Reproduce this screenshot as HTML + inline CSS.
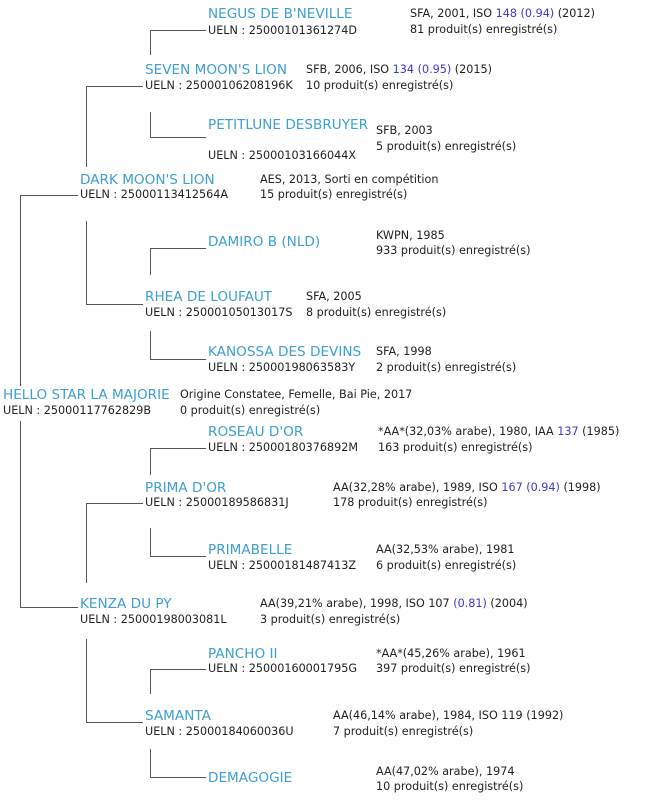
<!DOCTYPE html>
<html><head><meta charset="utf-8"><style>
body{margin:0;background:#fff;width:652px;height:800px;position:relative;overflow:hidden;font-family:"DejaVu Sans","Liberation Sans",sans-serif;}
.t{position:absolute;white-space:nowrap;line-height:16px;font-size:11.2px;color:#222;}
.n{font-size:13.6px;color:#3d9fd3;}
.b{color:#3a3ac8;}
.h{position:absolute;height:0;border-top:1.5px solid #555;}
.v{position:absolute;width:0;border-left:1.5px solid #555;}
</style></head><body>
<div class="h" style="left:150px;top:30px;width:56px"></div><div class="v" style="left:150px;top:30px;height:25px"></div>
<div class="h" style="left:86px;top:86px;width:57px"></div><div class="v" style="left:86px;top:86px;height:81px"></div>
<div class="v" style="left:150px;top:112px;height:25px"></div><div class="h" style="left:150px;top:137px;width:56px"></div>
<div class="h" style="left:20px;top:195px;width:58px"></div><div class="v" style="left:20px;top:195px;height:191px"></div>
<div class="h" style="left:150px;top:248px;width:56px"></div><div class="v" style="left:150px;top:248px;height:27px"></div>
<div class="v" style="left:86px;top:221px;height:83px"></div><div class="h" style="left:86px;top:304px;width:57px"></div>
<div class="v" style="left:150px;top:331px;height:28px"></div><div class="h" style="left:150px;top:359px;width:56px"></div>
<div class="v" style="left:20px;top:421px;height:186px"></div><div class="h" style="left:20px;top:607px;width:58px"></div>
<div class="h" style="left:150px;top:448px;width:56px"></div><div class="v" style="left:150px;top:448px;height:27px"></div>
<div class="h" style="left:86px;top:503px;width:57px"></div><div class="v" style="left:86px;top:503px;height:80px"></div>
<div class="v" style="left:150px;top:528px;height:28px"></div><div class="h" style="left:150px;top:556px;width:56px"></div>
<div class="h" style="left:150px;top:669px;width:56px"></div><div class="v" style="left:150px;top:669px;height:25px"></div>
<div class="v" style="left:86px;top:639px;height:83px"></div><div class="h" style="left:86px;top:722px;width:57px"></div>
<div class="v" style="left:150px;top:749px;height:28px"></div><div class="h" style="left:150px;top:777px;width:56px"></div>

<div class="t n" style="left:208px;top:6px">NEGUS DE B'NEVILLE</div>
<div class="t" style="left:208px;top:23px">UELN : 25000101361274D</div>
<div class="t" style="left:410px;top:6px">SFA, 2001, ISO <span class="b">148 (0.94)</span> (2012)</div>
<div class="t" style="left:410px;top:22px">81 produit(s) enregistré(s)</div>
<div class="t n" style="left:145px;top:62px">SEVEN MOON'S LION</div>
<div class="t" style="left:145px;top:78px">UELN : 25000106208196K</div>
<div class="t" style="left:306px;top:62px">SFB, 2006, ISO <span class="b">134 (0.95)</span> (2015)</div>
<div class="t" style="left:306px;top:78px">10 produit(s) enregistré(s)</div>
<div class="t n" style="left:208px;top:117px">PETITLUNE DESBRUYER</div>
<div class="t" style="left:208px;top:148px">UELN : 25000103166044X</div>
<div class="t" style="left:376px;top:123px">SFB, 2003</div>
<div class="t" style="left:376px;top:139px">5 produit(s) enregistré(s)</div>
<div class="t n" style="left:80px;top:172px">DARK MOON'S LION</div>
<div class="t" style="left:80px;top:187px">UELN : 25000113412564A</div>
<div class="t" style="left:260px;top:172px">AES, 2013, Sorti en compétition</div>
<div class="t" style="left:260px;top:187px">15 produit(s) enregistré(s)</div>
<div class="t n" style="left:208px;top:234px">DAMIRO B (NLD)</div>
<div class="t" style="left:376px;top:228px">KWPN, 1985</div>
<div class="t" style="left:376px;top:243px">933 produit(s) enregistré(s)</div>
<div class="t n" style="left:145px;top:289px">RHEA DE LOUFAUT</div>
<div class="t" style="left:145px;top:305px">UELN : 25000105013017S</div>
<div class="t" style="left:306px;top:289px">SFA, 2005</div>
<div class="t" style="left:306px;top:305px">8 produit(s) enregistré(s)</div>
<div class="t n" style="left:208px;top:344px">KANOSSA DES DEVINS</div>
<div class="t" style="left:208px;top:360px">UELN : 25000198063583Y</div>
<div class="t" style="left:376px;top:344px">SFA, 1998</div>
<div class="t" style="left:376px;top:360px">2 produit(s) enregistré(s)</div>
<div class="t n" style="left:3px;top:387px">HELLO STAR LA MAJORIE</div>
<div class="t" style="left:3px;top:403px">UELN : 25000117762829B</div>
<div class="t" style="left:180px;top:387px">Origine Constatee, Femelle, Bai Pie, 2017</div>
<div class="t" style="left:180px;top:403px">0 produit(s) enregistré(s)</div>
<div class="t n" style="left:208px;top:424px">ROSEAU D'OR</div>
<div class="t" style="left:208px;top:440px">UELN : 25000180376892M</div>
<div class="t" style="left:378px;top:424px">*AA*(32,03% arabe), 1980, IAA <span class="b">137</span> (1985)</div>
<div class="t" style="left:378px;top:440px">163 produit(s) enregistré(s)</div>
<div class="t n" style="left:145px;top:480px">PRIMA D'OR</div>
<div class="t" style="left:145px;top:495px">UELN : 25000189586831J</div>
<div class="t" style="left:333px;top:480px">AA(32,28% arabe), 1989, ISO <span class="b">167 (0.94)</span> (1998)</div>
<div class="t" style="left:333px;top:495px">178 produit(s) enregistré(s)</div>
<div class="t n" style="left:208px;top:542px">PRIMABELLE</div>
<div class="t" style="left:208px;top:558px">UELN : 25000181487413Z</div>
<div class="t" style="left:376px;top:542px">AA(32,53% arabe), 1981</div>
<div class="t" style="left:376px;top:558px">6 produit(s) enregistré(s)</div>
<div class="t n" style="left:80px;top:596px">KENZA DU PY</div>
<div class="t" style="left:80px;top:612px">UELN : 25000198003081L</div>
<div class="t" style="left:260px;top:596px">AA(39,21% arabe), 1998, ISO 107 <span class="b">(0.81)</span> (2004)</div>
<div class="t" style="left:260px;top:612px">3 produit(s) enregistré(s)</div>
<div class="t n" style="left:208px;top:646px">PANCHO II</div>
<div class="t" style="left:208px;top:661px">UELN : 25000160001795G</div>
<div class="t" style="left:376px;top:646px">*AA*(45,26% arabe), 1961</div>
<div class="t" style="left:376px;top:661px">397 produit(s) enregistré(s)</div>
<div class="t n" style="left:145px;top:708px">SAMANTA</div>
<div class="t" style="left:145px;top:724px">UELN : 25000184060036U</div>
<div class="t" style="left:333px;top:708px">AA(46,14% arabe), 1984, ISO 119 (1992)</div>
<div class="t" style="left:333px;top:724px">7 produit(s) enregistré(s)</div>
<div class="t n" style="left:208px;top:770px">DEMAGOGIE</div>
<div class="t" style="left:376px;top:764px">AA(47,02% arabe), 1974</div>
<div class="t" style="left:376px;top:779px">10 produit(s) enregistré(s)</div>
</body></html>
